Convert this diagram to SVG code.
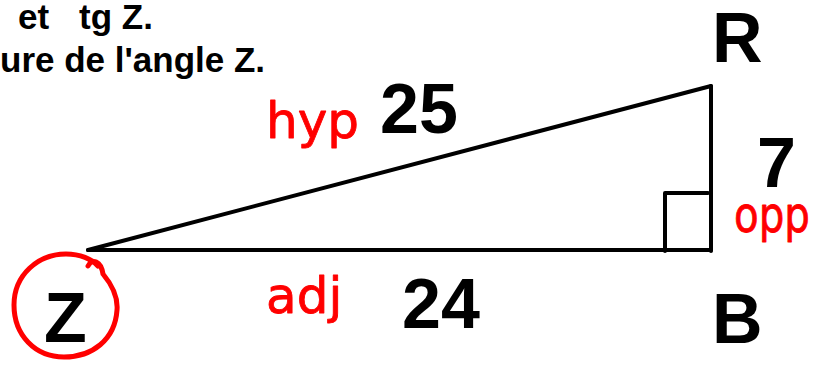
<svg xmlns="http://www.w3.org/2000/svg" width="818" height="365" viewBox="0 0 818 365">
<style>
.cap{font-family:"Liberation Sans",Arial,sans-serif;font-weight:bold;fill:#000}
.big{font-size:70px}
.hdr{font-size:35px}
.hand{font-family:"DejaVu Sans","Open Sans",sans-serif;font-size:50px;fill:#ff0000;stroke:#ff0000;stroke-width:0.8;stroke-linejoin:round}
.edge{stroke:#000;stroke-width:4;fill:none;stroke-linecap:round;stroke-linejoin:round}
.red{stroke:#ff0000;stroke-width:5;fill:none;stroke-linecap:round;stroke-linejoin:round}
</style>
<rect width="818" height="365" fill="#fff"/>
<g id="header">
<text class="cap hdr" y="29"><tspan x="18">et</tspan><tspan x="79">tg Z.</tspan></text>
<text class="cap hdr" x="0" y="72">ure de l'angle Z.</text>
</g>
<g id="connectors">
<path class="edge" d="M88 250 L711 86"/>
<path class="edge" d="M88 250 L711 250"/>
<path class="edge" d="M711 86 L711 251"/>
<path class="edge" d="M665 251 V193 H708"/>
</g>
<g id="node-Z">
<path class="red" d="M88 266 C92 258 101 261 103 274 C113 286 118 298 117 310 C115 340 92 357 64 357 C35 357 14 335 14 305 C14 275 38 254 66 254 C80 254 92 259 98 266"/>
<text class="cap big" x="44" y="342">Z</text>
</g>
<g id="node-R"><text class="cap big" x="712" y="62">R</text></g>
<g id="node-B"><text class="cap big" x="712" y="343">B</text></g>
<g id="label-hyp">
<text class="hand" x="266" y="138">hyp</text>
<text class="cap big" x="380" y="133">25</text>
</g>
<g id="label-opp">
<text class="cap big" x="757" y="187">7</text>
<text class="hand" x="734" y="232" font-size="42" textLength="76" lengthAdjust="spacingAndGlyphs">opp</text>
</g>
<g id="label-adj">
<text class="hand" x="266" y="313">adj</text>
<text class="cap big" x="402" y="328">24</text>
</g>
</svg>
